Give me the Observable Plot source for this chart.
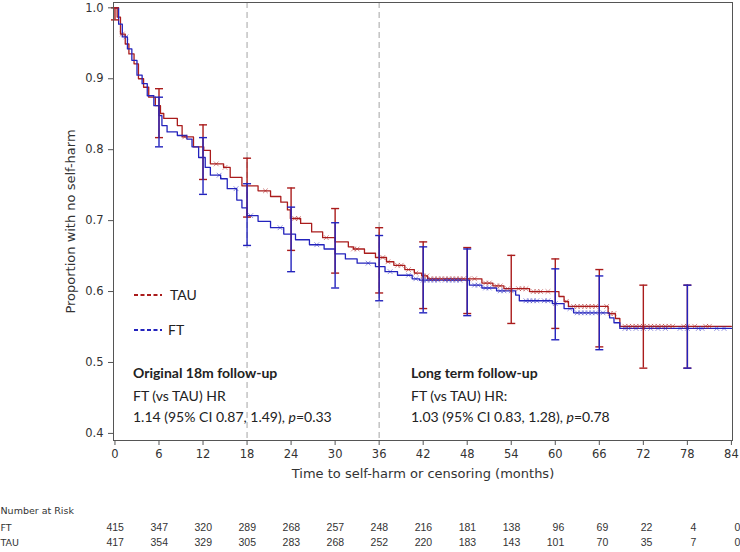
<!DOCTYPE html>
<html>
<head>
<meta charset="utf-8">
<script src="https://cdn.jsdelivr.net/npm/d3@7"></script>
<script src="https://cdn.jsdelivr.net/npm/@observablehq/plot@0.6"></script>
<style>
  html, body { margin: 0; padding: 0; background: #fff; }
  #wrap { position: relative; width: 740px; height: 552px; }
  .ann { position: absolute; font-family: Lato, "Open Sans", sans-serif; font-size: 14px; color: #222; white-space: nowrap; transform: translateY(-50%); line-height: 1; }
  .ann b { font-weight: 700; }
  .leg { position: absolute; font-family: Lato, sans-serif; font-size: 14px; color: #222; transform: translateY(-50%); line-height: 1; }
</style>
</head>
<body>
<div id="wrap"></div>
<script>
// ---------- data ----------
const groups = ["TAU", "FT"];
const colors = ["#aa1c1c", "#2323bd"];

const tauTime = [0, 0.3, 0.75, 1.4, 1.9, 2.6, 3.2, 3.9, 4.6, 5.5, 6.2, 6.65, 8.5, 9.15, 10.7, 12.1, 13.0, 14.8, 15.7, 17.3, 19.5, 21.2, 22.6, 23.5, 23.9, 25.3, 26.8, 28.3, 30.0, 31.8, 32.5, 34.0, 35.5, 37.0, 38.0, 39.5, 40.8, 41.8, 42.6, 50.0, 51.5, 53.0, 56.5, 60.5, 61.2, 61.8, 67.2, 68.2, 68.8, 84];
const tauSurv = [1.0, 0.987, 0.963, 0.949, 0.935, 0.921, 0.900, 0.888, 0.874, 0.862, 0.851, 0.844, 0.834, 0.818, 0.804, 0.799, 0.780, 0.775, 0.761, 0.749, 0.742, 0.734, 0.726, 0.715, 0.703, 0.696, 0.684, 0.676, 0.670, 0.663, 0.660, 0.654, 0.648, 0.642, 0.637, 0.631, 0.626, 0.622, 0.618, 0.612, 0.608, 0.604, 0.600, 0.593, 0.586, 0.579, 0.569, 0.562, 0.551, 0.551];

const ftTime = [0, 0.5, 1.0, 1.7, 2.3, 3.0, 3.7, 4.4, 5.3, 6.0, 6.4, 7.1, 8.5, 9.8, 10.5, 11.4, 12.3, 13.0, 14.4, 15.3, 16.6, 17.3, 18.0, 19.5, 21.2, 23.0, 24.6, 26.5, 28.5, 30.0, 31.4, 33.0, 35.5, 36.8, 38.5, 40.5, 41.5, 48.3, 50.0, 52.0, 54.6, 55.1, 59.6, 61.2, 62.5, 67.4, 68.0, 68.8, 84];
const ftSurv = [1.0, 0.977, 0.959, 0.942, 0.926, 0.905, 0.893, 0.876, 0.862, 0.848, 0.834, 0.825, 0.820, 0.815, 0.804, 0.789, 0.775, 0.764, 0.759, 0.745, 0.729, 0.718, 0.707, 0.699, 0.690, 0.681, 0.673, 0.666, 0.660, 0.653, 0.646, 0.640, 0.635, 0.628, 0.623, 0.618, 0.616, 0.609, 0.605, 0.601, 0.595, 0.587, 0.583, 0.576, 0.570, 0.563, 0.556, 0.548, 0.548];

const tauCensor = [1.0, 9.5, 13.8, 15.0, 20.5, 24.5, 25.0, 28.8, 32.5, 33.0, 36.5, 37.2, 38.5, 39.0, 40.0, 41.0, 42.0, 42.5, 43.0, 43.5, 44.0, 44.5, 45.0, 45.5, 46.0, 46.5, 47.0, 47.5, 48.2, 49.0, 50.5, 51.0, 52.0, 52.5, 53.5, 55.0, 55.5, 56.0, 57.0, 57.5, 58.0, 59.0, 61.5, 62.5, 63.0, 63.5, 64.0, 64.5, 65.0, 65.5, 67.0, 67.5, 68.0, 69.5, 70.0, 70.5, 71.0, 71.5, 72.0, 72.5, 73.0, 73.5, 74.0, 74.5, 75.0, 75.5, 76.0, 77.5, 78.0, 79.0, 80.5, 81.0];
const ftCensor = [1.5, 14.2, 16.5, 18.5, 22.5, 27.5, 34.5, 37.5, 40.0, 41.0, 42.0, 42.5, 43.0, 43.5, 44.0, 45.0, 45.5, 46.0, 46.5, 47.0, 49.0, 49.5, 50.5, 51.0, 52.5, 53.0, 54.0, 56.0, 56.5, 57.0, 57.5, 58.5, 59.0, 60.0, 62.0, 63.0, 63.5, 64.0, 64.5, 65.0, 65.5, 66.5, 69.5, 70.0, 71.0, 72.0, 73.0, 74.0, 75.0, 77.0, 78.0, 79.5, 80.0, 82.0, 83.0];

const ebTime = [0, 6, 12, 18, 24, 30, 36, 42, 48, 54, 60, 66, 72, 78];
const tauLo = [0.983, 0.817, 0.758, 0.705, 0.658, 0.626, 0.598, 0.576, 0.569, 0.555, 0.548, 0.522, 0.492, 0.492];
const tauHi = [1.000, 0.886, 0.835, 0.788, 0.746, 0.717, 0.690, 0.670, 0.662, 0.651, 0.646, 0.631, 0.609, 0.609];
const ftLo = [null, 0.804, 0.737, 0.665, 0.628, 0.605, 0.587, 0.570, 0.566, null, 0.532, 0.518, null, 0.492];
const ftHi = [null, 0.874, 0.817, 0.752, 0.719, 0.697, 0.679, 0.663, 0.660, null, 0.632, 0.622, null, 0.609];

const refLines = [18, 36];
const xTicks = [0, 6, 12, 18, 24, 30, 36, 42, 48, 54, 60, 66, 72, 78, 84];
const yTicks = [0.4, 0.5, 0.6, 0.7, 0.8, 0.9, 1.0];
const riskTime = [0, 6, 12, 18, 24, 30, 36, 42, 48, 54, 60, 66, 72, 78, 84];
const riskFT = [415, 347, 320, 289, 268, 257, 248, 216, 181, 138, 96, 69, 22, 4, 0];
const riskTAU = [417, 354, 329, 305, 283, 268, 252, 220, 183, 143, 101, 70, 35, 7, 0];

// ---------- build tables ----------
const curve = (ts, ss) => ts.map((t, i) => ({t, s: ss[i]}));
const stepAt = (ts, ss, t) => { let v = ss[0]; for (let i = 0; i < ts.length; i++) { if (ts[i] <= t) v = ss[i]; } return v; };
const censorRows = (cs, ts, ss) => cs.map(t => ({t, s: stepAt(ts, ss, t)}));
const ebRows = (lo, hi) => ebTime.map((t, i) => ({t, lo: lo[i], hi: hi[i]})).filter(d => d.lo != null);
const tauCurve = curve(tauTime, tauSurv), ftCurve = curve(ftTime, ftSurv);
const tauEB = ebRows(tauLo, tauHi), ftEB = ebRows(ftLo, ftHi);
const riskRows = (ns) => riskTime.map((t, i) => ({t, n: String(ns[i])}));

const cap = { draw(ctx, size) { const r = Math.sqrt(size / Math.PI); ctx.moveTo(-r, 0); ctx.lineTo(r, 0); } };

function errorMarks(rows, color) {
  return [
    Plot.ruleX(rows, {x: "t", y1: "lo", y2: "hi", stroke: color, strokeWidth: 1.4}),
    Plot.dot(rows, {x: "t", y: "lo", symbol: cap, r: 4, stroke: color, fill: "none", strokeWidth: 1.4}),
    Plot.dot(rows, {x: "t", y: "hi", symbol: cap, r: 4, stroke: color, fill: "none", strokeWidth: 1.4})
  ];
}

const chart = Plot.plot({
  width: 740,
  height: 552,
  marginLeft: 113,
  marginRight: 8,
  marginTop: 2,
  marginBottom: 112,
  style: {fontFamily: "DejaVu Sans, sans-serif", fontSize: "11.5px", color: "#333", background: "#fff"},
  x: {domain: [-0.2, 84.15], label: null},
  y: {domain: [0.390, 1.0075], label: null},
  marks: [
    Plot.ruleX(refLines, {stroke: "#b4b4b4", strokeDasharray: "6,4", strokeWidth: 1.2}),
    Plot.line(tauCurve, {x: "t", y: "s", curve: "step-after", stroke: colors[0], strokeWidth: 1.3}),
    Plot.line(ftCurve, {x: "t", y: "s", curve: "step-after", stroke: colors[1], strokeWidth: 1.3}),
    Plot.dot(censorRows(tauCensor, tauTime, tauSurv), {x: "t", y: "s", symbol: "times", r: 2.3, stroke: colors[0], strokeOpacity: 0.5, strokeWidth: 1}),
    Plot.dot(censorRows(ftCensor, ftTime, ftSurv), {x: "t", y: "s", symbol: "times", r: 2.3, stroke: colors[1], strokeOpacity: 0.5, strokeWidth: 1}),
    ...errorMarks(tauEB, colors[0]),
    ...errorMarks(ftEB, colors[1]),
    Plot.frame({stroke: "#555"}),
    Plot.axisX({ticks: xTicks, tickSize: 5, tickPadding: 4, label: null, stroke: "#555"}),
    Plot.axisY({ticks: yTicks, tickFormat: ".1f", tickSize: 5, tickPadding: 5, label: null, stroke: "#555"}),
    Plot.text(["Time to self-harm or censoring (months)"], {frameAnchor: "bottom", textAnchor: "middle", dy: 37, fontSize: 13, fill: "#333"}),
    Plot.text(["Proportion with no self-harm"], {frameAnchor: "middle", textAnchor: "middle", dx: -352.5, rotate: -90, fontSize: 13, fill: "#333"}),
    Plot.text(["Number at Risk"], {frameAnchor: "bottom-left", dx: -113, dy: 73, textAnchor: "start", fontSize: 9.5, fill: "#333"}),
    Plot.text(["FT"], {frameAnchor: "bottom-left", dx: -113, dy: 90, textAnchor: "start", fontSize: 9.5, fill: "#333"}),
    Plot.text(["TAU"], {frameAnchor: "bottom-left", dx: -113, dy: 105.5, textAnchor: "start", fontSize: 9.5, fill: "#333"}),
    Plot.text(riskRows(riskFT), {x: "t", text: "n", frameAnchor: "bottom", dy: 90, dx: 9, textAnchor: "end", fontFamily: "Liberation Sans, Arial, sans-serif", fontSize: 10.5, fill: "#333"}),
    Plot.text(riskRows(riskTAU), {x: "t", text: "n", frameAnchor: "bottom", dy: 105.5, dx: 9, textAnchor: "end", fontFamily: "Liberation Sans, Arial, sans-serif", fontSize: 10.5, fill: "#333"})
  ]
});

const wrap = document.getElementById("wrap");
wrap.appendChild(chart);

// legend (inside plot area)
const legSvg = document.createElementNS("http://www.w3.org/2000/svg", "svg");
legSvg.setAttribute("width", 740); legSvg.setAttribute("height", 552);
legSvg.style.position = "absolute"; legSvg.style.left = "0"; legSvg.style.top = "0"; legSvg.style.pointerEvents = "none";
[[groups[0], colors[0], 295], [groups[1], colors[1], 330]].forEach(([name, col, y]) => {
  const l = document.createElementNS("http://www.w3.org/2000/svg", "line");
  l.setAttribute("x1", 134); l.setAttribute("x2", 162); l.setAttribute("y1", y); l.setAttribute("y2", y);
  l.setAttribute("stroke", col); l.setAttribute("stroke-width", 2); l.setAttribute("stroke-dasharray", "4,2.5");
  legSvg.appendChild(l);
  const d = document.createElement("div");
  d.className = "leg"; d.textContent = name;
  d.style.left = (name === "TAU" ? 170 : 168) + "px"; d.style.top = y + "px";
  wrap.appendChild(d);
});
wrap.appendChild(legSvg);

// annotations
const ann = [
  [133, 373, "<b>Original 18m follow-up</b>"],
  [133, 396, "FT (vs TAU) HR"],
  [133, 417, "1.14 (95% CI 0.87, 1.49), <i>p</i>=0.33"],
  [411, 373, "<b>Long term follow-up</b>"],
  [411, 396, "FT (vs TAU) HR:"],
  [411, 417, "1.03 (95% CI 0.83, 1.28), <i>p</i>=0.78"]
];
ann.forEach(([x, y, html]) => {
  const d = document.createElement("div");
  d.className = "ann"; d.innerHTML = html;
  d.style.left = x + "px"; d.style.top = y + "px";
  wrap.appendChild(d);
});
</script>
</body>
</html>
